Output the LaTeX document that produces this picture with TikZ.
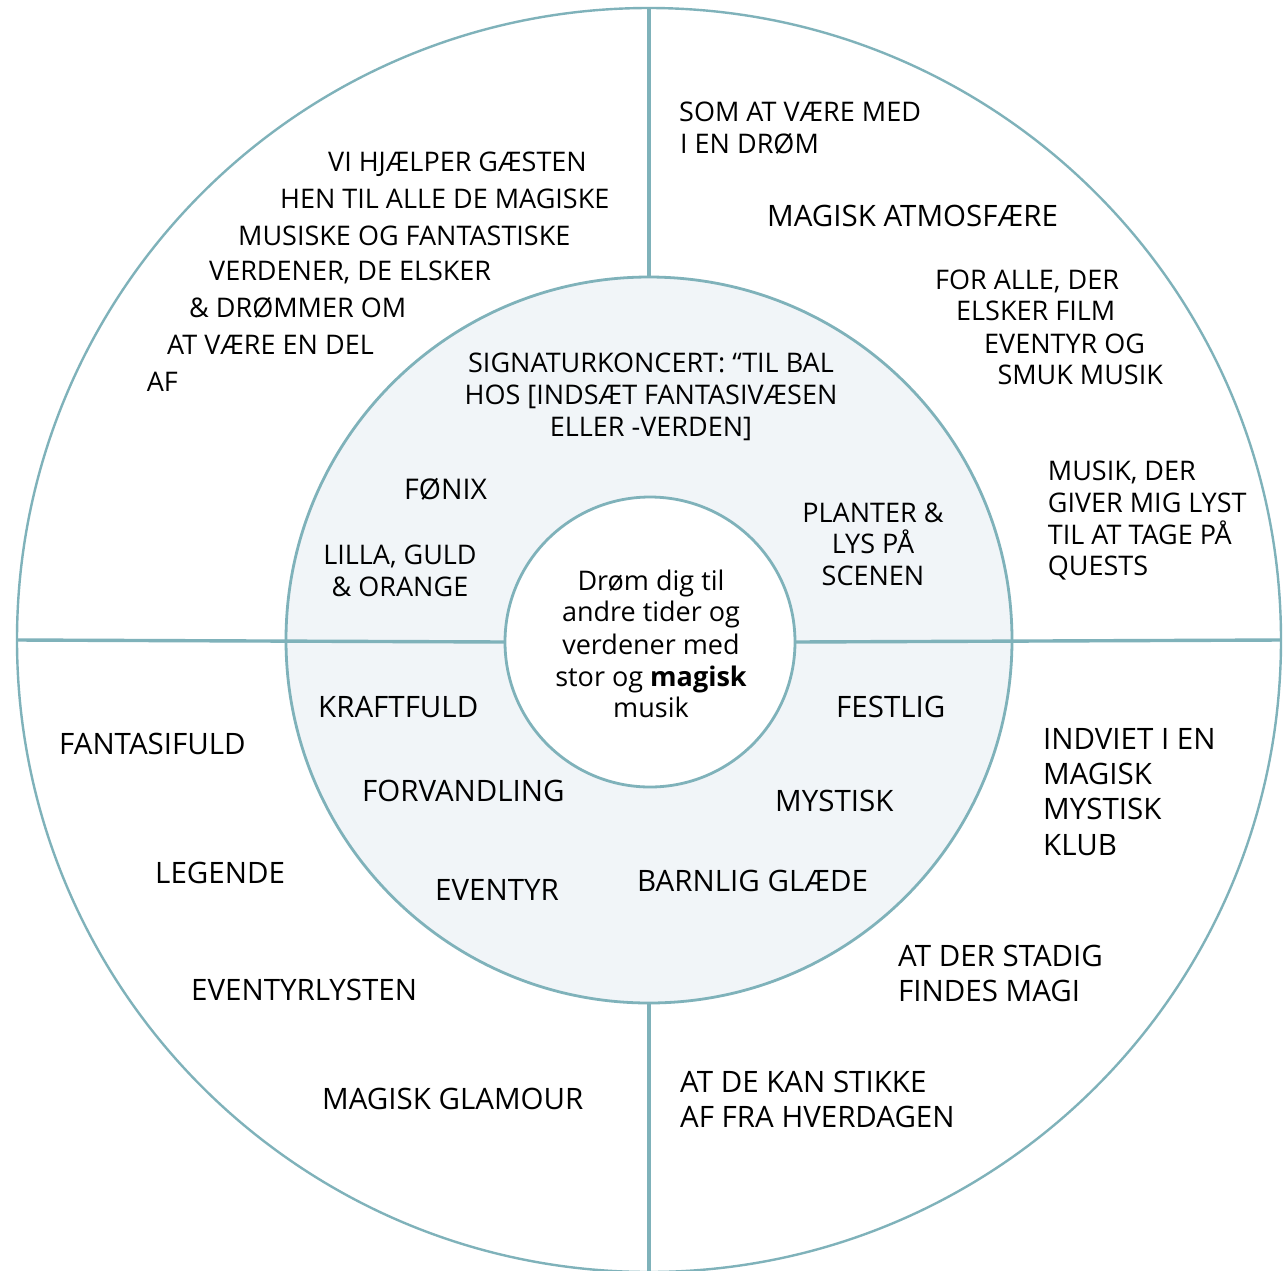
\documentclass[tikz,border=0pt]{standalone}
\usepackage{fontspec}
\setmainfont{Open Sans}
\definecolor{ringline}{HTML}{7FB2BA}
\definecolor{ringfill}{HTML}{F1F5F8}
\begin{document}
\begin{tikzpicture}[x=1pt,y=-1pt,
  ring/.style={circle, draw=ringline, line width=2.8pt, inner sep=0pt, outer sep=0pt},
  divider/.style={draw=ringline, line width=3.4pt},
  tx/.style={anchor=base west, inner sep=0pt, font=\fontsize{27}{32}\selectfont},
  tc/.style={anchor=base, inner sep=0pt, font=\fontsize{27}{32}\selectfont},
  big/.style={font=\fontsize{29.5}{35}\selectfont}]
\useasboundingbox (0,0) rectangle (1286,1270);
\fill[white] (0,0) rectangle (1286,1270);
% circles
\node[ring, fill=white, line width=2.4pt, minimum size=1264pt] (outer) at (649,640) {};
\node[ring, fill=ringfill, minimum size=726pt] (mid) at (649,640) {};
\node[ring, fill=white, minimum size=290pt] (inner) at (650,642) {};
% dividers
\draw[divider] (outer.north) -- (mid.north);
\draw[divider] (mid.south) -- (outer.south);
\draw[divider] (outer.west) -- (inner.west);
\draw[divider] (inner.east) -- (outer.east);
% top-left outer
\node[tx] (tl1) at (328,171.7) {VI HJÆLPER GÆSTEN};
\node[tx] (tl2) at (280,208.3) {HEN TIL ALLE DE MAGISKE};
\node[tx] (tl3) at (238,245) {MUSISKE OG FANTASTISKE};
\node[tx] (tl4) at (209,280.7) {VERDENER, DE ELSKER};
\node[tx] (tl5) at (189,317.7) {\& DRØMMER OM};
\node[tx] (tl6) at (167,354.3) {AT VÆRE EN DEL};
\node[tx] (tl7) at (146.7,391.7) {AF};
% top-right outer
\node[tx] (tr1) at (679,121) {SOM AT VÆRE MED};
\node[tx] (tr2) at (680,153.2) {I EN DRØM};
\node[tx, big] (tr3) at (767,226.7) {MAGISK ATMOSFÆRE};
\node[tx] (tr4) at (935,289) {FOR ALLE, DER};
\node[tx] (tr5) at (956,320.7) {ELSKER FILM};
\node[tx] (tr6) at (984,353) {EVENTYR OG};
\node[tx] (tr7) at (997.3,384.7) {SMUK MUSIK};
\node[tx] (tr8) at (1047.7,480) {MUSIK, DER};
\node[tx] (tr9) at (1047.7,512.3) {GIVER MIG LYST};
\node[tx] (tr10) at (1047.7,544) {TIL AT TAGE PÅ};
\node[tx] (tr11) at (1047.7,575.7) {QUESTS};
% middle ring top
\node[tc] (m1) at (651,372.5) {SIGNATURKONCERT: “TIL BAL};
\node[tc] (m2) at (651,404.5) {HOS [INDSÆT FANTASIVÆSEN};
\node[tc] (m3) at (651,436.5) {ELLER -VERDEN]};
\node[tx, font=\fontsize{28.5}{34}\selectfont] (m4) at (404,499) {FØNIX};
\node[tc] (m5) at (400,564.5) {LILLA, GULD};
\node[tc] (m6) at (400,596.5) {\& ORANGE};
\node[tc] (m7) at (873,522.3) {PLANTER \&};
\node[tc] (m8) at (873,553.8) {LYS PÅ};
\node[tc] (m9) at (873,585.3) {SCENEN};
% center
\node[tc] (c1) at (651,590) {Drøm dig til};
\node[tc] (c2) at (651,621.7) {andre tider og};
\node[tc] (c3) at (651,654) {verdener med};
\node[tc] (c4) at (651,686) {stor og \textbf{magisk}};
\node[tc] (c5) at (651,717.5) {musik};
% middle ring bottom
\node[tx, big] (b1) at (318,717.5) {KRAFTFULD};
\node[tx, big] (b2) at (362,801.5) {FORVANDLING};
\node[tx, big] (b3) at (435,900.5) {EVENTYR};
\node[tx, big] (b4) at (836,717.5) {FESTLIG};
\node[tx, big] (b5) at (775,811.5) {MYSTISK};
\node[tx, big] (b6) at (637,891.5) {BARNLIG GLÆDE};
% bottom-left outer
\node[tx, big] (bl1) at (59,754.5) {FANTASIFULD};
\node[tx, big] (bl2) at (155,883.5) {LEGENDE};
\node[tx, big] (bl3) at (191,1000.5) {EVENTYRLYSTEN};
\node[tx, big] (bl4) at (322,1109.5) {MAGISK GLAMOUR};
% bottom-right outer
\node[tx, big] (br1) at (1043,749.5) {INDVIET I EN};
\node[tx, big] (br2) at (1043,784.5) {MAGISK};
\node[tx, big] (br3) at (1043,819.5) {MYSTISK};
\node[tx, big] (br4) at (1043,855.5) {KLUB};
\node[tx, big] (br5) at (898,966.5) {AT DER STADIG};
\node[tx, big] (br6) at (898,1001.5) {FINDES MAGI};
\node[tx, big] (br7) at (680,1092.5) {AT DE KAN STIKKE};
\node[tx, big] (br8) at (680,1127.5) {AF FRA HVERDAGEN};
\end{tikzpicture}
\end{document}
